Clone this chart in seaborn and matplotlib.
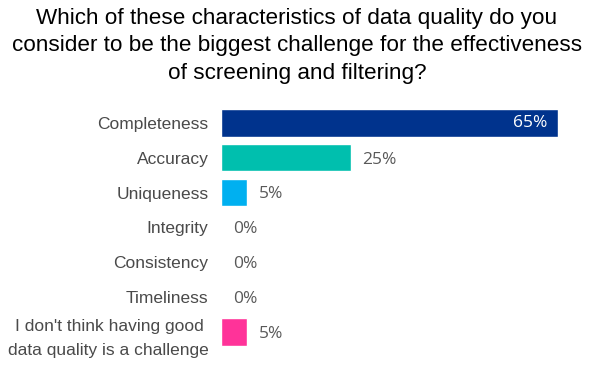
import numpy as np
import pandas as pd
import matplotlib
matplotlib.use("Agg")
import matplotlib.pyplot as plt
import seaborn as sns

title = ("Which of these characteristics of data quality do you\n"
         "consider to be the biggest challenge for the effectiveness\n"
         "of screening and filtering?")
categories = ["Completeness", "Accuracy", "Uniqueness", "Integrity",
              "Consistency", "Timeliness",
              "I don't think having good \ndata quality is a challenge"]
values = [65, 25, 5, 0, 0, 0, 5]
colors = ["#00338D", "#00BFAE", "#00B0F0", "#00B0F0", "#00B0F0", "#00B0F0", "#FF3399"]

df = pd.DataFrame({"category": categories, "value": values})

sns.set_style("white")
plt.rcParams["font.family"] = ["Liberation Sans", "DejaVu Sans"]

fig = plt.figure(figsize=(5.94, 3.67), dpi=100)
ax = fig.add_axes([221 / 594, 1 - 349.5 / 367, (558 - 221) / 594, 244 / 367])

sns.barplot(data=df, x="value", y="category", hue="category", palette=colors,
            legend=False, width=0.78, ax=ax, saturation=1)

ax.set_xlim(0, 65)
ax.set_xlabel("")
ax.set_ylabel("")
ax.set_xticks([])
sns.despine(ax=ax, left=True, bottom=True)
ax.tick_params(axis="y", length=0, pad=9, labelsize=12.5, labelcolor="#4a4a4a")
for lab in ax.get_yticklabels():
    lab.set_horizontalalignment("right")
    lab.set_linespacing(1.8)

for i, v in enumerate(values):
    if v >= 50:
        ax.text(v - 2, i, f"{v}%", ha="right", va="center", color="white",
                fontsize=12.5, family="Open Sans")
    else:
        ax.text(v + 2.3, i + 0.05, f"{v}%", ha="left", va="center", color="#595959",
                fontsize=12.5, family="Open Sans")

fig.text(0.5, 0.978, title, ha="center", va="top", fontsize=16.2,
         color="black", linespacing=1.4)

fig.savefig("out.png", dpi=100)
